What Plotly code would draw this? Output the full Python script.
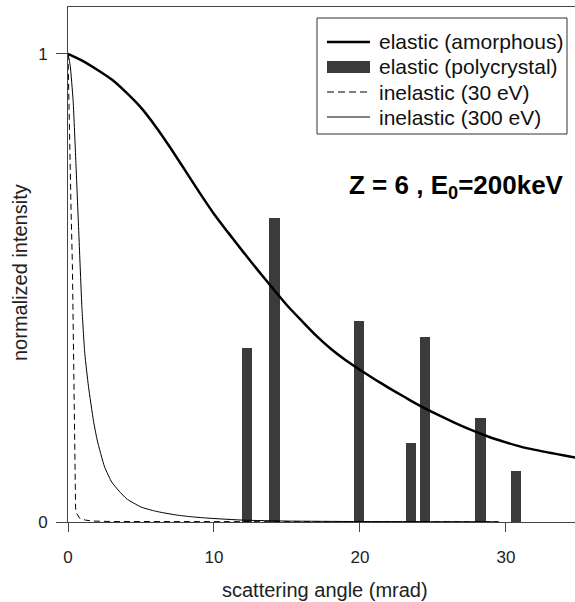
import plotly.graph_objects as go

# ---------------- data ----------------
amorph_x = [0, 1, 2, 3, 4, 5, 6, 7, 8, 9, 10, 11, 12, 13, 14, 15, 16, 17, 18, 19,
            20, 21, 22, 23, 24, 25, 26, 27, 28, 29, 30, 31, 32, 33, 34, 35]
amorph_y = [1.0, 0.985, 0.966, 0.945, 0.917, 0.885, 0.845, 0.800, 0.752, 0.704, 0.658,
            0.617, 0.577, 0.538, 0.500, 0.463, 0.430, 0.398, 0.370, 0.346, 0.325,
            0.305, 0.286, 0.268, 0.250, 0.234, 0.219, 0.205, 0.192, 0.180, 0.170,
            0.161, 0.154, 0.148, 0.142, 0.136]

poly_x = [12.25, 14.15, 19.95, 23.5, 24.45, 28.25, 30.7]
poly_y = [0.371, 0.650, 0.430, 0.168, 0.395, 0.223, 0.110]

inel30_x = [0, 0.1, 0.2, 0.3, 0.4, 0.48, 0.52, 0.6, 0.8, 1.2, 1.7, 3.0, 10, 20, 29.5]
inel30_y = [1.0, 0.80, 0.68, 0.55, 0.33, 0.06, 0.03, 0.018, 0.008, 0.004, 0.002,
            0.001, 0.0005, 0.0003, 0.0002]

inel300_x = [0, 0.15, 0.35, 0.55, 0.75, 0.95, 1.15, 1.4, 1.75, 2.0, 2.5, 3.0, 3.5,
             4.0, 5.0, 6.0, 7.4, 8.5, 9.7, 12.0, 15.0, 20.0, 25.0, 29.5]
inel300_y = [1.0, 0.975, 0.90, 0.76, 0.61, 0.46, 0.36, 0.29, 0.215, 0.175, 0.118,
             0.085, 0.066, 0.050, 0.032, 0.023, 0.015, 0.011, 0.008, 0.004, 0.002,
             0.001, 0.0007, 0.0005]

x_ticks = [0, 10, 20, 30]
y_ticks = [0, 1]
legend_labels = ["elastic (amorphous)", "elastic (polycrystal)",
                 "inelastic (30 eV)", "inelastic (300 eV)"]
x_title = "scattering angle (mrad)"
y_title = "normalized intensity"
note = "Z = 6 , E<sub>0</sub>=200keV"

# ---------------- layout geometry ----------------
W, H = 575, 602
ML, MR, MT, MB = 68, 0, 7, 80
PW, PH = W - ML - MR, H - MT - MB
FONT = "Liberation Sans, Arial, sans-serif"
BAR_COLOR = "#3b3b3b"


def px(xp):
    return (xp - ML) / PW


def py(yp):
    return (H - MB - yp) / PH


fig = go.Figure()
fig.add_trace(go.Bar(x=poly_x, y=poly_y, width=0.7, marker_color=BAR_COLOR,
                     marker_line_width=0, showlegend=False))
fig.add_trace(go.Scatter(x=inel300_x, y=inel300_y, mode="lines",
                         line=dict(color="black", width=1, shape="spline",
                                   smoothing=0.5), showlegend=False))
fig.add_trace(go.Scatter(x=inel30_x, y=inel30_y, mode="lines",
                         line=dict(color="black", width=1, dash="6px,4px"),
                         showlegend=False))
fig.add_trace(go.Scatter(x=amorph_x, y=amorph_y, mode="lines",
                         line=dict(color="black", width=2.5, shape="spline",
                                   smoothing=0.6), showlegend=False))

# ---------------- manual legend ----------------
shapes = []
annotations = []
shapes.append(dict(type="rect", xref="paper", yref="paper",
                   x0=px(317), x1=px(567), y0=py(134), y1=py(18),
                   line=dict(color="#333", width=1), fillcolor="white", layer="above"))
rows = [42, 67, 92, 117]
styles = [("line", dict(color="black", width=2.5)),
          ("rect", None),
          ("line", dict(color="black", width=1, dash="7px,4px")),
          ("line", dict(color="black", width=1))]
for (kind, st), yy, lab in zip(styles, rows, legend_labels):
    if kind == "line":
        shapes.append(dict(type="line", xref="paper", yref="paper",
                           x0=px(327), x1=px(370), y0=py(yy), y1=py(yy),
                           line=st, layer="above"))
    else:
        shapes.append(dict(type="rect", xref="paper", yref="paper",
                           x0=px(327), x1=px(370), y0=py(yy + 6), y1=py(yy - 6),
                           line=dict(width=0), fillcolor=BAR_COLOR, layer="above"))
    annotations.append(dict(text=lab, xref="paper", yref="paper", x=px(377), y=py(yy),
                            xanchor="left", yanchor="middle", showarrow=False,
                            font=dict(family=FONT, size=21, color="#111")))

annotations.append(dict(text="<b>" + note + "</b>", xref="paper", yref="paper",
                        x=px(347), y=py(186), xanchor="left", yanchor="middle",
                        showarrow=False, font=dict(family=FONT, size=26, color="black")))
annotations.append(dict(text=x_title, xref="paper", yref="paper", x=px(325), y=py(590),
                        xanchor="center", yanchor="middle", showarrow=False,
                        font=dict(family=FONT, size=20, color="#222")))
annotations.append(dict(text=y_title, xref="paper", yref="paper", x=px(20), y=py(273),
                        xanchor="center", yanchor="middle", showarrow=False, textangle=-90,
                        font=dict(family=FONT, size=20, color="#222")))

fig.update_layout(
    width=W, height=H,
    margin=dict(l=ML, r=MR, t=MT, b=MB, pad=0),
    paper_bgcolor="white", plot_bgcolor="white",
    shapes=shapes, annotations=annotations,
    showlegend=False, bargap=0,
    xaxis=dict(range=[0, 34.73], tickvals=x_ticks, ticks="outside", ticklen=9,
               tickcolor="#444", showgrid=False, zeroline=False, showline=True,
               linecolor="#444", linewidth=1, mirror=True, ticklabelstandoff=11,
               tickfont=dict(family=FONT, size=17, color="#222")),
    yaxis=dict(range=[0, 1.1], tickvals=y_ticks, ticks="outside", ticklen=11,
               tickcolor="#444", showgrid=False, zeroline=False, showline=True,
               linecolor="#444", linewidth=1, ticklabelstandoff=5,
               tickfont=dict(family=FONT, size=17, color="#222")),
)

fig.write_html("out.html", config={"displayModeBar": False},
               post_script="document.body.style.margin='0px';")
